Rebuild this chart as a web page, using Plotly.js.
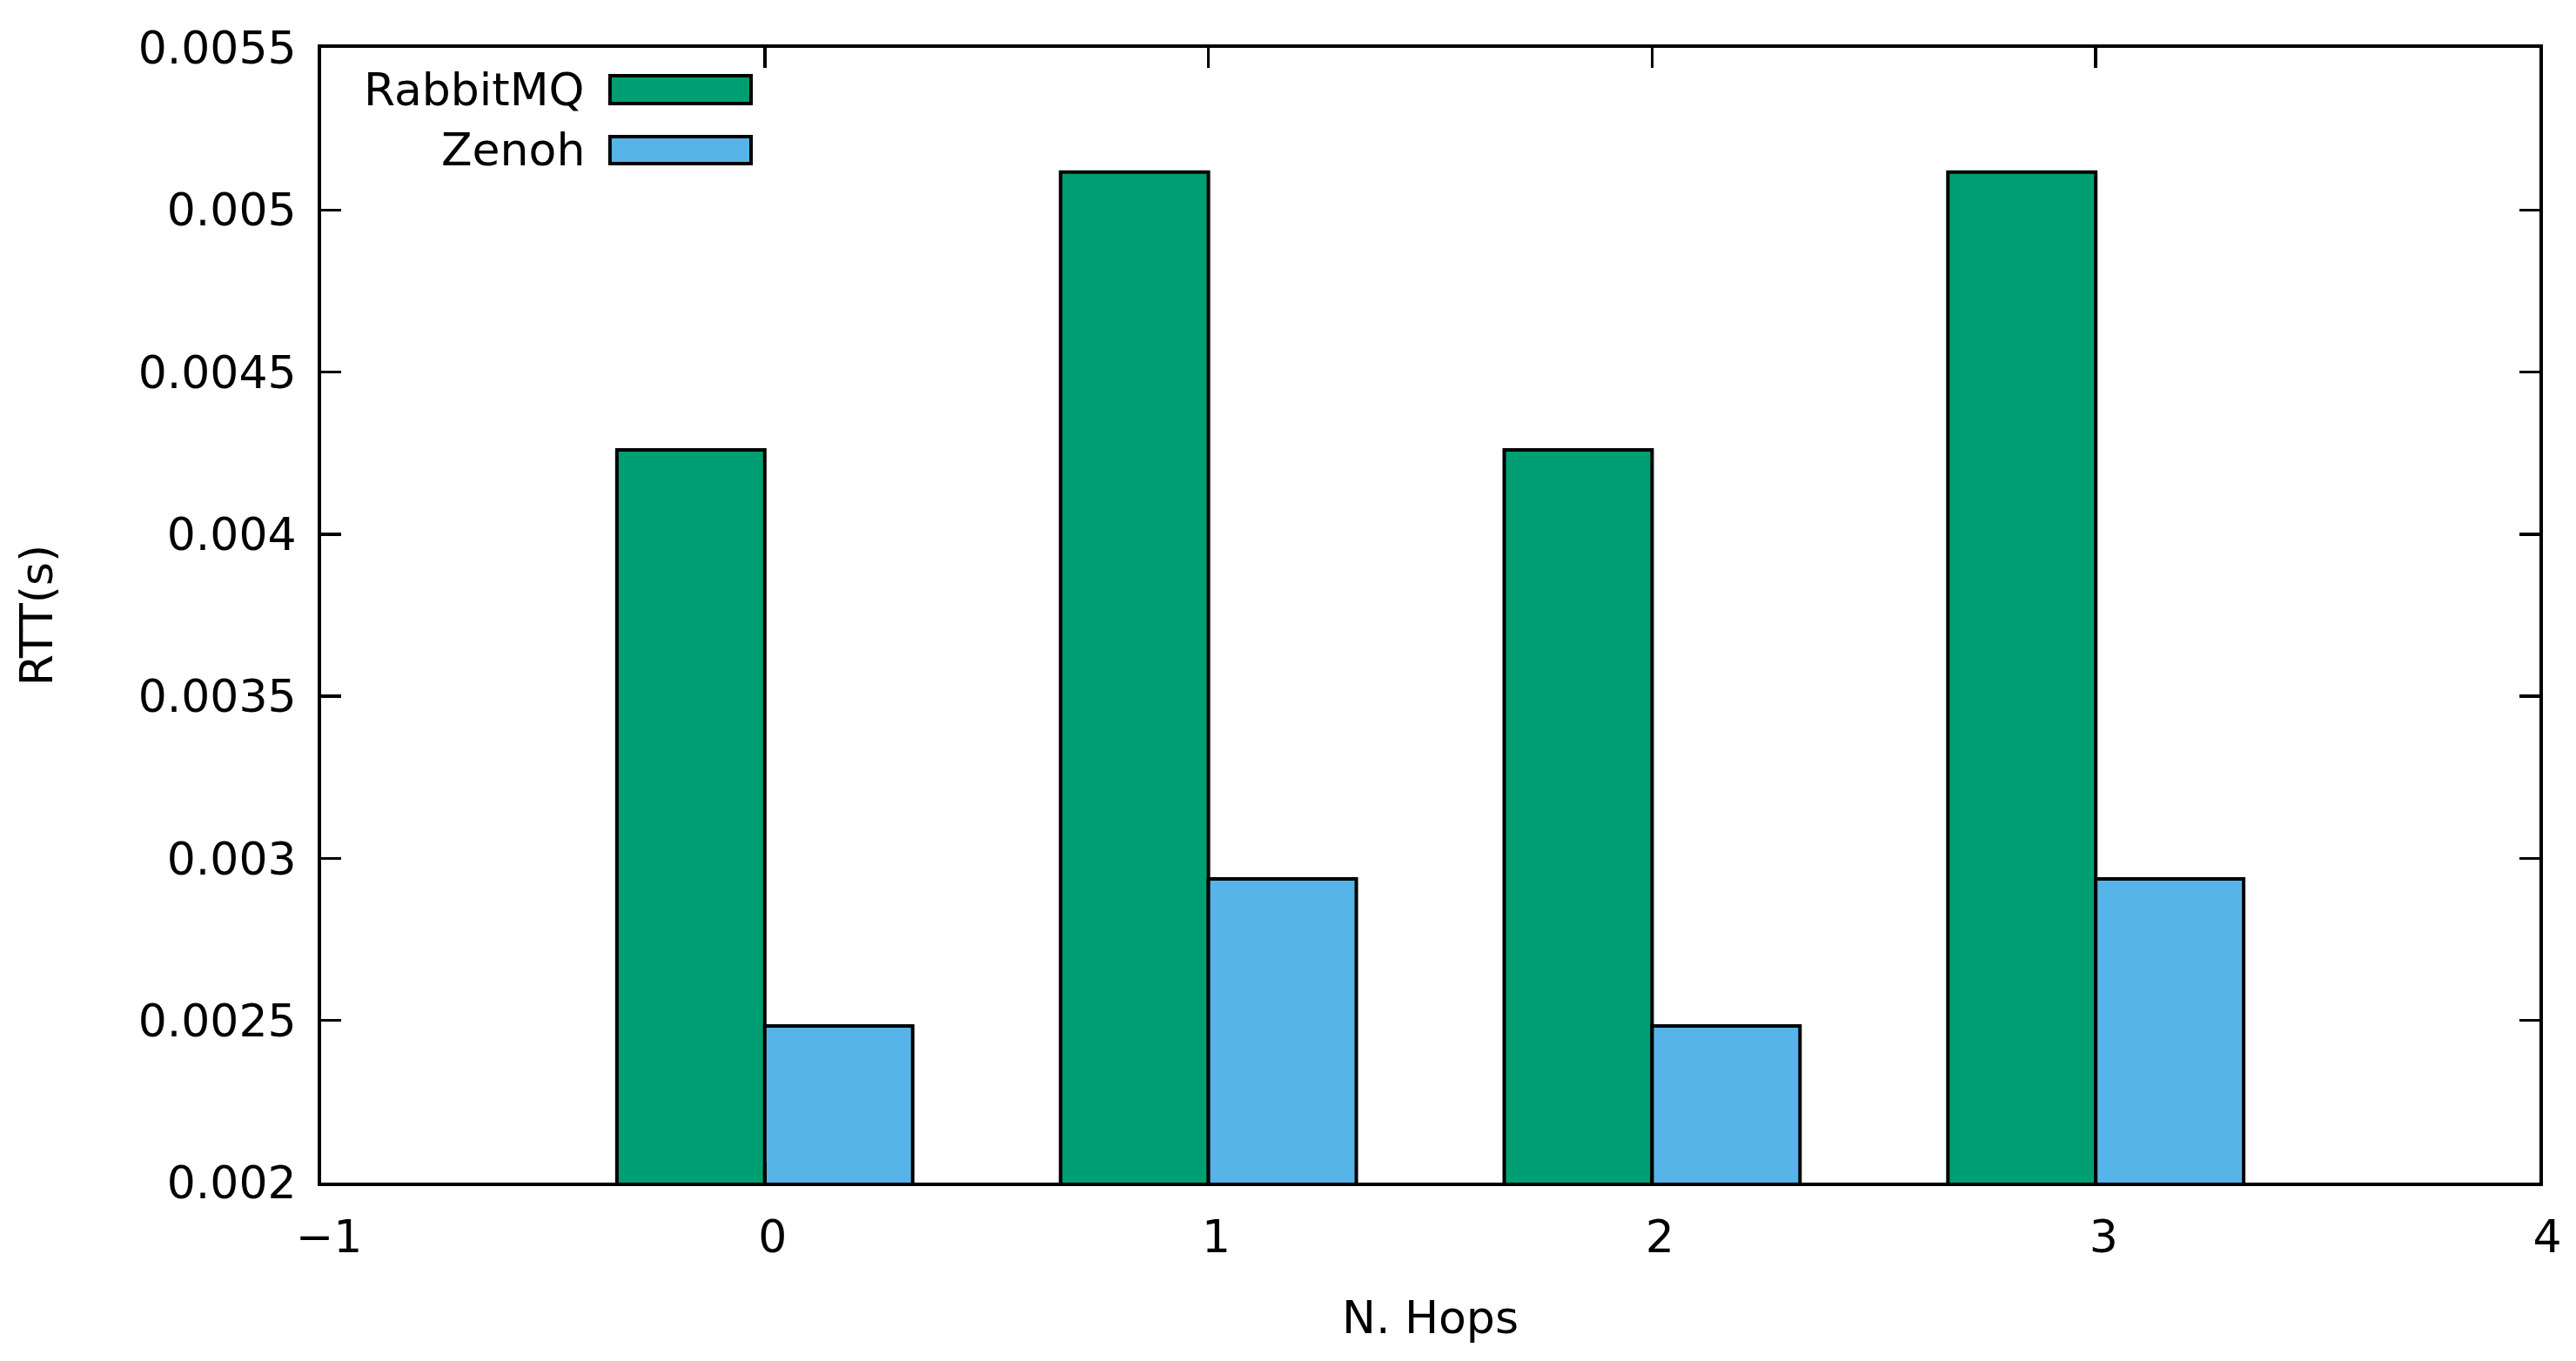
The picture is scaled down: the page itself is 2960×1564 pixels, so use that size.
<!DOCTYPE html>
<html>
<head>
<meta charset="utf-8">
<script src="https://cdn.plot.ly/plotly-3.0.1.min.js"></script>
<style>html,body{margin:0;padding:0;background:#fff;}#chart{width:2960px;height:1564px;}</style>
</head>
<body>
<div id="chart"></div>
<script>
const hops = [0, 1, 2, 3];
const seriesNames = ["RabbitMQ", "Zenoh"];
const rabbitmq = [0.00426, 0.005117, 0.00426, 0.005117];
const zenoh = [0.002483, 0.002937, 0.002483, 0.002937];
const seriesColors = ["#009E73", "#56B4E9"];
const xTicks = [-1, 0, 1, 2, 3, 4];
const yTicks = [0.002, 0.0025, 0.003, 0.0035, 0.004, 0.0045, 0.005, 0.0055];
const yTickLabels = ["0.002", "0.0025", "0.003", "0.0035", "0.004", "0.0045", "0.005", "0.0055"];

const font = {family: "DejaVu Sans", size: 52, color: "#000"};

const traces = [rabbitmq, zenoh].map((vals, i) => ({
  type: "bar",
  x: hops,
  y: vals,
  name: seriesNames[i],
  marker: {color: seriesColors[i], line: {color: "#000", width: 4}},
  showlegend: false,
  hoverinfo: "none"
}));

// Legend drawn gnuplot-style: right-aligned label, swatch to its right
const legX0 = 0.1302, legX1 = 0.1938, legTextX = 0.1195;
const legRows = [[0.9509, 0.9755], [0.898, 0.9218]];
const shapes = legRows.map((r, i) => ({
  type: "rect", xref: "paper", yref: "paper",
  x0: legX0, x1: legX1, y0: r[0], y1: r[1],
  fillcolor: seriesColors[i], line: {color: "#000", width: 4}, layer: "above"
}));
const annotations = legRows.map((r, i) => ({
  xref: "paper", yref: "paper", x: legTextX, y: (r[0] + r[1]) / 2,
  text: seriesNames[i], showarrow: false, xanchor: "right", yanchor: "middle",
  font: font
}));

const layout = {
  width: 2960, height: 1564,
  margin: {l: 369, r: 42, t: 55, b: 205, pad: 0},
  paper_bgcolor: "#fff", plot_bgcolor: "#fff",
  font: font,
  barmode: "group", bargap: 1/3, bargroupgap: 0,
  showlegend: false,
  xaxis: {
    range: [-1, 4], tickmode: "array", tickvals: xTicks,
    ticks: "inside", ticklen: 23, tickwidth: 3.5, tickcolor: "#000",
    showline: true, linecolor: "#000", linewidth: 4, mirror: "ticks",
    showgrid: false, zeroline: false, tickfont: font,
    ticklabelstandoff: 14, ticklabelshift: 9,
    title: {text: "N. Hops", font: font, standoff: 46}
  },
  yaxis: {
    range: [0.002, 0.0055], tickmode: "array", tickvals: yTicks, ticktext: yTickLabels,
    ticks: "inside", ticklen: 23, tickwidth: 3.5, tickcolor: "#000",
    showline: true, linecolor: "#000", linewidth: 4, mirror: "ticks",
    showgrid: false, zeroline: false, tickfont: font,
    ticklabelstandoff: 14,
    title: {text: "RTT(s)", font: font, standoff: 82}
  },
  shapes: shapes,
  annotations: annotations
};

Plotly.newPlot("chart", traces, layout, {staticPlot: true, displayModeBar: false});
</script>
</body>
</html>
